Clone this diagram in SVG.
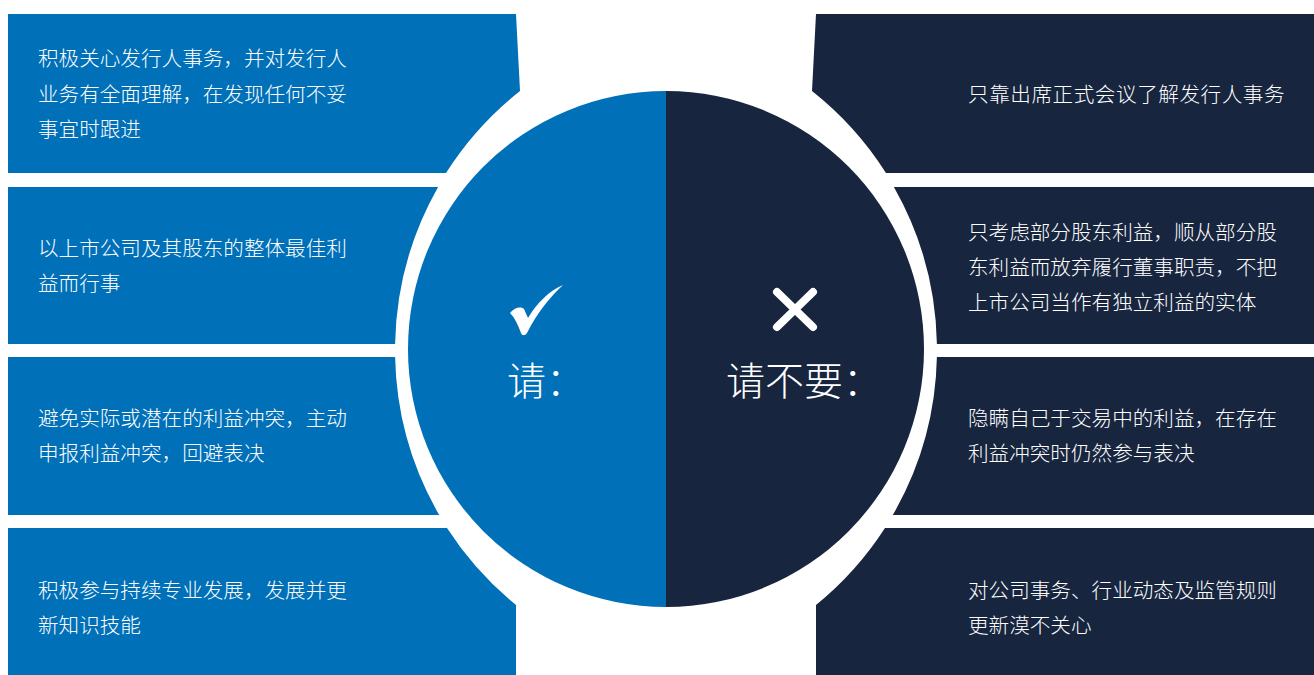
<svg xmlns="http://www.w3.org/2000/svg" width="1314" height="675" viewBox="0 0 1314 675">
<style>
.blue{fill:#0070B8;}
.navy{fill:#17253F;}
.t{font-family:"Noto Sans CJK SC","Noto Sans",sans-serif;font-size:20.6px;font-weight:300;fill:#FFFFFF;}
.big{font-family:"Noto Sans CJK SC","Noto Sans",sans-serif;font-size:39px;font-weight:300;fill:#FFFFFF;}
</style>
<rect x="0" y="0" width="1314" height="675" fill="#FFFFFF"/>
<g id="left-1">
<path class="blue" d="M8,14 H516 L520,91 A330,330 0 0 0 446,173 H8 Z"/>
<text class="t" x="38" y="66">积极关心发行人事务，并对发行人</text>
<text class="t" x="38" y="101.5">业务有全面理解，在发现任何不妥</text>
<text class="t" x="38" y="137">事宜时跟进</text>
</g>
<g id="left-2">
<path class="blue" d="M8,187 H438.1 A330,330 0 0 0 395.1,344 H8 Z"/>
<text class="t" x="38" y="256">以上市公司及其股东的整体最佳利</text>
<text class="t" x="38" y="291">益而行事</text>
</g>
<g id="left-3">
<path class="blue" d="M8,357 H395.1 A330,330 0 0 0 439.2,515 H8 Z"/>
<text class="t" x="38" y="426">避免实际或潜在的利益冲突，主动</text>
<text class="t" x="38" y="461">申报利益冲突，回避表决</text>
</g>
<g id="left-4">
<path class="blue" d="M8,528 H447 A330,330 0 0 0 516,605 V675 H8 Z"/>
<text class="t" x="38" y="598">积极参与持续专业发展，发展并更</text>
<text class="t" x="38" y="633">新知识技能</text>
</g>
<g id="right-1">
<path class="navy" d="M1314,14 H816 L812,91 A330,330 0 0 1 886,173 H1314 Z"/>
<text class="t" x="968" y="102" letter-spacing="0.55">只靠出席正式会议了解发行人事务</text>
</g>
<g id="right-2">
<path class="navy" d="M1314,187 H893.9 A330,330 0 0 1 936.9,344 H1314 Z"/>
<text class="t" x="968" y="240">只考虑部分股东利益，顺从部分股</text>
<text class="t" x="968" y="275">东利益而放弃履行董事职责，不把</text>
<text class="t" x="968" y="310">上市公司当作有独立利益的实体</text>
</g>
<g id="right-3">
<path class="navy" d="M1314,357 H936.9 A330,330 0 0 1 892.8,515 H1314 Z"/>
<text class="t" x="968" y="426">隐瞒自己于交易中的利益，在存在</text>
<text class="t" x="968" y="461">利益冲突时仍然参与表决</text>
</g>
<g id="right-4">
<path class="navy" d="M1314,528 H885 A330,330 0 0 1 816,605 V675 H1314 Z"/>
<text class="t" x="968" y="598">对公司事务、行业动态及监管规则</text>
<text class="t" x="968" y="633">更新漠不关心</text>
</g>
<g id="center-do">
<path class="blue" d="M666,91 A258,258 0 0 0 666,607 Z"/>
<path fill="#FFFFFF" d="M510,313 C514,308 520,306 524,309 L528,318 C537,303 549,291 563,285 C550,297 537,313 527,333 C525,336 522,336 521,333 C518,325 515,318 510,313 Z"/>
<text class="big" x="507" y="395">请：</text>
</g>
<g id="center-dont">
<path class="navy" d="M666,91 A258,258 0 0 1 666,607 Z"/>
<path d="M777,292 L813,327 M813,292 L777,327" stroke="#FFFFFF" stroke-width="8" stroke-linecap="round" fill="none"/>
<text class="big" x="726" y="395">请不要：</text>
</g>
<g id="connectors"></g>
</svg>
